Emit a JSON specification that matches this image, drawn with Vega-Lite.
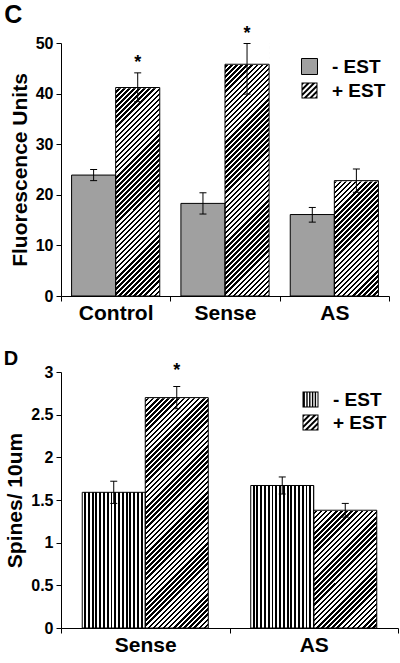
{
"$schema": "https://vega.github.io/schema/vega-lite/v6.json",
"background": "white",
"padding": {"left": 3, "top": 2, "right": 0, "bottom": 0},
"spacing": 25,
"config": {
  "view": {"stroke": null},
  "font": "Liberation Sans",
  "axis": {"domainColor": "#000", "tickColor": "#000", "labelColor": "#000", "titleColor": "#000", "labelFont": "Liberation Sans", "titleFont": "Liberation Sans", "labelFontWeight": "bold", "titleFontWeight": "bold", "grid": false, "domainWidth": 1, "tickWidth": 1},
  "title": {"font": "Liberation Sans", "fontWeight": "bold", "color": "#000", "anchor": "start", "frame": "bounds"}
},
"datasets": {
  "c": [
    {"g": "Control", "t": "- EST", "v": 23.9, "lo": 22.8, "hi": 25.0},
    {"g": "Control", "t": "+ EST", "v": 41.2, "lo": 38.4, "hi": 44.1, "star": true},
    {"g": "Sense", "t": "- EST", "v": 18.3, "lo": 16.2, "hi": 20.4},
    {"g": "Sense", "t": "+ EST", "v": 45.8, "lo": 39.9, "hi": 49.9, "star": true},
    {"g": "AS", "t": "- EST", "v": 16.1, "lo": 14.6, "hi": 17.5},
    {"g": "AS", "t": "+ EST", "v": 22.8, "lo": 20.5, "hi": 25.1}
  ],
  "d": [
    {"g": "Sense", "t": "- EST", "v": 1.59, "lo": 1.46, "hi": 1.72},
    {"g": "Sense", "t": "+ EST", "v": 2.70, "lo": 2.57, "hi": 2.83, "star": true},
    {"g": "AS", "t": "- EST", "v": 1.67, "lo": 1.57, "hi": 1.77},
    {"g": "AS", "t": "+ EST", "v": 1.38, "lo": 1.30, "hi": 1.46}
  ]
},
"resolve": {"scale": {"x": "independent", "y": "independent", "xOffset": "independent", "color": "independent", "shape": "independent", "stroke": "independent"}, "legend": {"color": "independent", "shape": "independent", "stroke": "independent"}},
"vconcat": [
{
  "title": {"text": "C", "fontSize": 25, "offset": -3, "dx": -5},
  "width": 328,
  "height": 253,
  "data": {"name": "c"},
  "encoding": {
    "x": {"field": "g", "type": "nominal", "sort": ["Control", "Sense", "AS"], "scale": {"paddingInner": 0, "paddingOuter": 0}, "axis": {"title": null, "labelFontSize": 21, "labelPadding": 1, "tickSize": 5, "tickBand": "extent", "labelAngle": 0}},
    "xOffset": {"field": "t", "type": "nominal", "sort": ["- EST", "+ EST"], "scale": {"paddingOuter": 0.24, "paddingInner": 0}}
  },
  "layer": [
    {
      "transform": [{"filter": "datum.t == '+ EST'"}],
      "mark": {"type": "bar", "strokeWidth": 0, "fill": {"gradient": "linear", "x1": 0, "y1": 0, "x2": 0.1986, "y2": 1.1396, "stops": [
{"offset":0,"color":"#fff"},
{"offset":0.0085,"color":"#fff"},{"offset":0.0085,"color":"#000"},
{"offset":0.017,"color":"#000"},{"offset":0.017,"color":"#fff"},
{"offset":0.0255,"color":"#fff"},{"offset":0.0255,"color":"#000"},
{"offset":0.034,"color":"#000"},{"offset":0.034,"color":"#fff"},
{"offset":0.0425,"color":"#fff"},{"offset":0.0425,"color":"#000"},
{"offset":0.051,"color":"#000"},{"offset":0.051,"color":"#fff"},
{"offset":0.0595,"color":"#fff"},{"offset":0.0595,"color":"#000"},
{"offset":0.068,"color":"#000"},{"offset":0.068,"color":"#fff"},
{"offset":0.0765,"color":"#fff"},{"offset":0.0765,"color":"#000"},
{"offset":0.085,"color":"#000"},{"offset":0.085,"color":"#fff"},
{"offset":0.0935,"color":"#fff"},{"offset":0.0935,"color":"#000"},
{"offset":0.102,"color":"#000"},{"offset":0.102,"color":"#fff"},
{"offset":0.1105,"color":"#fff"},{"offset":0.1105,"color":"#000"},
{"offset":0.119,"color":"#000"},{"offset":0.119,"color":"#fff"},
{"offset":0.1275,"color":"#fff"},{"offset":0.1275,"color":"#000"},
{"offset":0.136,"color":"#000"},{"offset":0.136,"color":"#fff"},
{"offset":0.1445,"color":"#fff"},{"offset":0.1445,"color":"#000"},
{"offset":0.153,"color":"#000"},{"offset":0.153,"color":"#fff"},
{"offset":0.1615,"color":"#fff"},{"offset":0.1615,"color":"#000"},
{"offset":0.17,"color":"#000"},{"offset":0.17,"color":"#fff"},
{"offset":0.1785,"color":"#fff"},{"offset":0.1785,"color":"#000"},
{"offset":0.187,"color":"#000"},{"offset":0.187,"color":"#fff"},
{"offset":0.1955,"color":"#fff"},{"offset":0.1955,"color":"#000"},
{"offset":0.204,"color":"#000"},{"offset":0.204,"color":"#fff"},
{"offset":0.2125,"color":"#fff"},{"offset":0.2125,"color":"#000"},
{"offset":0.221,"color":"#000"},{"offset":0.221,"color":"#fff"},
{"offset":0.2295,"color":"#fff"},{"offset":0.2295,"color":"#000"},
{"offset":0.238,"color":"#000"},{"offset":0.238,"color":"#fff"},
{"offset":0.2465,"color":"#fff"},{"offset":0.2465,"color":"#000"},
{"offset":0.255,"color":"#000"},{"offset":0.255,"color":"#fff"},
{"offset":0.2635,"color":"#fff"},{"offset":0.2635,"color":"#000"},
{"offset":0.272,"color":"#000"},{"offset":0.272,"color":"#fff"},
{"offset":0.2805,"color":"#fff"},{"offset":0.2805,"color":"#000"},
{"offset":0.289,"color":"#000"},{"offset":0.289,"color":"#fff"},
{"offset":0.2975,"color":"#fff"},{"offset":0.2975,"color":"#000"},
{"offset":0.306,"color":"#000"},{"offset":0.306,"color":"#fff"},
{"offset":0.3145,"color":"#fff"},{"offset":0.3145,"color":"#000"},
{"offset":0.323,"color":"#000"},{"offset":0.323,"color":"#fff"},
{"offset":0.3315,"color":"#fff"},{"offset":0.3315,"color":"#000"},
{"offset":0.34,"color":"#000"},{"offset":0.34,"color":"#fff"},
{"offset":0.3485,"color":"#fff"},{"offset":0.3485,"color":"#000"},
{"offset":0.357,"color":"#000"},{"offset":0.357,"color":"#fff"},
{"offset":0.3655,"color":"#fff"},{"offset":0.3655,"color":"#000"},
{"offset":0.374,"color":"#000"},{"offset":0.374,"color":"#fff"},
{"offset":0.3825,"color":"#fff"},{"offset":0.3825,"color":"#000"},
{"offset":0.391,"color":"#000"},{"offset":0.391,"color":"#fff"},
{"offset":0.3995,"color":"#fff"},{"offset":0.3995,"color":"#000"},
{"offset":0.408,"color":"#000"},{"offset":0.408,"color":"#fff"},
{"offset":0.4165,"color":"#fff"},{"offset":0.4165,"color":"#000"},
{"offset":0.425,"color":"#000"},{"offset":0.425,"color":"#fff"},
{"offset":0.4335,"color":"#fff"},{"offset":0.4335,"color":"#000"},
{"offset":0.442,"color":"#000"},{"offset":0.442,"color":"#fff"},
{"offset":0.4505,"color":"#fff"},{"offset":0.4505,"color":"#000"},
{"offset":0.459,"color":"#000"},{"offset":0.459,"color":"#fff"},
{"offset":0.4675,"color":"#fff"},{"offset":0.4675,"color":"#000"},
{"offset":0.476,"color":"#000"},{"offset":0.476,"color":"#fff"},
{"offset":0.4845,"color":"#fff"},{"offset":0.4845,"color":"#000"},
{"offset":0.493,"color":"#000"},{"offset":0.493,"color":"#fff"},
{"offset":0.5015,"color":"#fff"},{"offset":0.5015,"color":"#000"},
{"offset":0.51,"color":"#000"},{"offset":0.51,"color":"#fff"},
{"offset":0.5185,"color":"#fff"},{"offset":0.5185,"color":"#000"},
{"offset":0.527,"color":"#000"},{"offset":0.527,"color":"#fff"},
{"offset":0.5355,"color":"#fff"},{"offset":0.5355,"color":"#000"},
{"offset":0.544,"color":"#000"},{"offset":0.544,"color":"#fff"},
{"offset":0.5525,"color":"#fff"},{"offset":0.5525,"color":"#000"},
{"offset":0.561,"color":"#000"},{"offset":0.561,"color":"#fff"},
{"offset":0.5695,"color":"#fff"},{"offset":0.5695,"color":"#000"},
{"offset":0.578,"color":"#000"},{"offset":0.578,"color":"#fff"},
{"offset":0.5865,"color":"#fff"},{"offset":0.5865,"color":"#000"},
{"offset":0.595,"color":"#000"},{"offset":0.595,"color":"#fff"},
{"offset":0.6035,"color":"#fff"},{"offset":0.6035,"color":"#000"},
{"offset":0.612,"color":"#000"},{"offset":0.612,"color":"#fff"},
{"offset":0.6205,"color":"#fff"},{"offset":0.6205,"color":"#000"},
{"offset":0.629,"color":"#000"},{"offset":0.629,"color":"#fff"},
{"offset":0.6375,"color":"#fff"},{"offset":0.6375,"color":"#000"},
{"offset":0.646,"color":"#000"},{"offset":0.646,"color":"#fff"},
{"offset":0.6545,"color":"#fff"},{"offset":0.6545,"color":"#000"},
{"offset":0.663,"color":"#000"},{"offset":0.663,"color":"#fff"},
{"offset":0.6715,"color":"#fff"},{"offset":0.6715,"color":"#000"},
{"offset":0.68,"color":"#000"},{"offset":0.68,"color":"#fff"},
{"offset":0.6885,"color":"#fff"},{"offset":0.6885,"color":"#000"},
{"offset":0.697,"color":"#000"},{"offset":0.697,"color":"#fff"},
{"offset":0.7055,"color":"#fff"},{"offset":0.7055,"color":"#000"},
{"offset":0.714,"color":"#000"},{"offset":0.714,"color":"#fff"},
{"offset":0.7225,"color":"#fff"},{"offset":0.7225,"color":"#000"},
{"offset":0.731,"color":"#000"},{"offset":0.731,"color":"#fff"},
{"offset":0.7395,"color":"#fff"},{"offset":0.7395,"color":"#000"},
{"offset":0.748,"color":"#000"},{"offset":0.748,"color":"#fff"},
{"offset":0.7565,"color":"#fff"},{"offset":0.7565,"color":"#000"},
{"offset":0.765,"color":"#000"},{"offset":0.765,"color":"#fff"},
{"offset":0.7735,"color":"#fff"},{"offset":0.7735,"color":"#000"},
{"offset":0.782,"color":"#000"},{"offset":0.782,"color":"#fff"},
{"offset":0.7905,"color":"#fff"},{"offset":0.7905,"color":"#000"},
{"offset":0.799,"color":"#000"},{"offset":0.799,"color":"#fff"},
{"offset":0.8075,"color":"#fff"},{"offset":0.8075,"color":"#000"},
{"offset":0.816,"color":"#000"},{"offset":0.816,"color":"#fff"},
{"offset":0.8245,"color":"#fff"},{"offset":0.8245,"color":"#000"},
{"offset":0.833,"color":"#000"},{"offset":0.833,"color":"#fff"},
{"offset":0.8415,"color":"#fff"},{"offset":0.8415,"color":"#000"},
{"offset":0.85,"color":"#000"},{"offset":0.85,"color":"#fff"},
{"offset":0.8585,"color":"#fff"},{"offset":0.8585,"color":"#000"},
{"offset":0.867,"color":"#000"},{"offset":0.867,"color":"#fff"},
{"offset":0.8755,"color":"#fff"},{"offset":0.8755,"color":"#000"},
{"offset":0.884,"color":"#000"},{"offset":0.884,"color":"#fff"},
{"offset":0.8925,"color":"#fff"},{"offset":0.8925,"color":"#000"},
{"offset":0.901,"color":"#000"},{"offset":0.901,"color":"#fff"},
{"offset":0.9095,"color":"#fff"},{"offset":0.9095,"color":"#000"},
{"offset":0.918,"color":"#000"},{"offset":0.918,"color":"#fff"},
{"offset":0.9265,"color":"#fff"},{"offset":0.9265,"color":"#000"},
{"offset":0.935,"color":"#000"},{"offset":0.935,"color":"#fff"},
{"offset":0.9435,"color":"#fff"},{"offset":0.9435,"color":"#000"},
{"offset":0.952,"color":"#000"},{"offset":0.952,"color":"#fff"},
{"offset":0.9605,"color":"#fff"},{"offset":0.9605,"color":"#000"},
{"offset":0.969,"color":"#000"},{"offset":0.969,"color":"#fff"},
{"offset":0.9775,"color":"#fff"},{"offset":0.9775,"color":"#000"},
{"offset":0.986,"color":"#000"},{"offset":0.986,"color":"#fff"},
{"offset":0.9945,"color":"#fff"},{"offset":0.9945,"color":"#000"},
{"offset":1,"color":"#000"}]}},
      "encoding": {"y": {"datum": 50, "type": "quantitative"}, "y2": {"datum": 0}}
    },
    {
      "transform": [{"filter": "datum.t == '+ EST'"}],
      "mark": {"type": "bar", "fill": "#fff", "stroke": "#fff", "strokeWidth": 1.5},
      "encoding": {"y": {"field": "v", "type": "quantitative"}, "y2": {"datum": 50}}
    },
    {
      "transform": [{"filter": "datum.t == '- EST'"}],
      "mark": {"type": "bar", "fill": "#a0a0a0", "stroke": "#000", "strokeWidth": 1},
      "encoding": {"y": {"field": "v", "type": "quantitative", "scale": {"domain": [0, 50], "nice": false}, "axis": {"title": "Fluorescence Units", "titleFontSize": 21, "titlePadding": 5, "values": [0, 10, 20, 30, 40, 50], "labelFontSize": 16, "labelPadding": 3, "tickSize": 5}}}
    },
    {
      "transform": [{"filter": "datum.t == '+ EST'"}],
      "mark": {"type": "bar", "fill": "transparent", "stroke": "#000", "strokeWidth": 1},
      "encoding": {"y": {"field": "v", "type": "quantitative"}}
    },
    {
      "mark": {"type": "rule", "color": "#000", "strokeWidth": 1},
      "encoding": {"y": {"field": "lo", "type": "quantitative"}, "y2": {"field": "hi"}}
    },
    {
      "mark": {"type": "tick", "orient": "horizontal", "size": 7, "thickness": 1, "color": "#000", "opacity": 1},
      "encoding": {"y": {"field": "hi", "type": "quantitative"}}
    },
    {
      "mark": {"type": "tick", "orient": "horizontal", "size": 7, "thickness": 1, "color": "#000", "opacity": 1},
      "encoding": {"y": {"field": "lo", "type": "quantitative"}}
    },
    {
      "transform": [{"filter": "datum.star === true"}],
      "mark": {"type": "text", "text": "*", "fontSize": 18, "fontWeight": "bold", "font": "Liberation Sans", "baseline": "alphabetic", "dy": -5, "color": "#000"},
      "encoding": {"y": {"field": "hi", "type": "quantitative"}}
    },
    {
      "transform": [{"filter": "false"}],
      "mark": {"type": "point", "filled": true, "opacity": 1, "size": 256, "strokeWidth": 1},
      "encoding": {
        "y": {"field": "v", "type": "quantitative"},
        "color": {"field": "t", "type": "nominal", "scale": {"domain": ["- EST", "+ EST"], "range": ["#a0a0a0", "#000"]},
          "legend": {"title": null, "orient": "none", "legendX": 239, "legendY": 14, "symbolSize": 256, "symbolStrokeWidth": 1, "symbolOpacity": 1, "labelFontSize": 19, "labelFontWeight": "bold", "labelFont": "Liberation Sans", "labelColor": "#000", "labelOffset": 13, "rowPadding": 3, "padding": 0}},
        "shape": {"field": "t", "type": "nominal", "scale": {"domain": ["- EST", "+ EST"], "range": ["square", "M-1,-1H1V1H-1Z M-0.875,-0.35L-0.35,-0.875L-0.7,-0.875L-0.875,-0.7Z M-0.875,0.35L0.35,-0.875L0,-0.875L-0.875,0Z M-0.7,0.875L0.875,-0.7L0.875,-0.875L0.7,-0.875L-0.875,0.7L-0.875,0.875Z M0,0.875L0.875,0L0.875,-0.35L-0.35,0.875Z M0.7,0.875L0.875,0.7L0.875,0.35L0.35,0.875Z"]},
          "legend": {"title": null, "orient": "none", "legendX": 239, "legendY": 14, "symbolSize": 256, "symbolStrokeWidth": 1, "symbolOpacity": 1, "labelFontSize": 19, "labelFontWeight": "bold", "labelFont": "Liberation Sans", "labelColor": "#000", "labelOffset": 13, "rowPadding": 3, "padding": 0}},
        "stroke": {"field": "t", "type": "nominal", "scale": {"domain": ["- EST", "+ EST"], "range": ["#000", "transparent"]},
          "legend": {"title": null, "orient": "none", "legendX": 239, "legendY": 14, "symbolSize": 256, "symbolStrokeWidth": 1, "symbolOpacity": 1, "labelFontSize": 19, "labelFontWeight": "bold", "labelFont": "Liberation Sans", "labelColor": "#000", "labelOffset": 13, "rowPadding": 3, "padding": 0}}
      }
    }
  ]
},
{
  "title": {"text": "D", "fontSize": 20, "offset": -7, "dx": -1},
  "width": 337,
  "height": 256,
  "data": {"name": "d"},
  "encoding": {
    "x": {"field": "g", "type": "nominal", "sort": ["Sense", "AS"], "scale": {"paddingInner": 0, "paddingOuter": 0}, "axis": {"title": null, "labelFontSize": 21, "labelPadding": 1, "tickSize": 5, "tickBand": "extent", "labelAngle": 0}},
    "xOffset": {"field": "t", "type": "nominal", "sort": ["- EST", "+ EST"], "scale": {"paddingOuter": 0.337, "paddingInner": 0}}
  },
  "layer": [
    {
      "transform": [{"filter": "datum.t == '+ EST'"}],
      "mark": {"type": "bar", "strokeWidth": 0, "fill": {"gradient": "linear", "x1": 0, "y1": 0, "x2": 0.2892, "y2": 1.175, "stops": [
{"offset":0,"color":"#fff"},
{"offset":0.008,"color":"#fff"},{"offset":0.008,"color":"#000"},
{"offset":0.016,"color":"#000"},{"offset":0.016,"color":"#fff"},
{"offset":0.024,"color":"#fff"},{"offset":0.024,"color":"#000"},
{"offset":0.032,"color":"#000"},{"offset":0.032,"color":"#fff"},
{"offset":0.04,"color":"#fff"},{"offset":0.04,"color":"#000"},
{"offset":0.048,"color":"#000"},{"offset":0.048,"color":"#fff"},
{"offset":0.056,"color":"#fff"},{"offset":0.056,"color":"#000"},
{"offset":0.064,"color":"#000"},{"offset":0.064,"color":"#fff"},
{"offset":0.072,"color":"#fff"},{"offset":0.072,"color":"#000"},
{"offset":0.08,"color":"#000"},{"offset":0.08,"color":"#fff"},
{"offset":0.088,"color":"#fff"},{"offset":0.088,"color":"#000"},
{"offset":0.096,"color":"#000"},{"offset":0.096,"color":"#fff"},
{"offset":0.104,"color":"#fff"},{"offset":0.104,"color":"#000"},
{"offset":0.112,"color":"#000"},{"offset":0.112,"color":"#fff"},
{"offset":0.12,"color":"#fff"},{"offset":0.12,"color":"#000"},
{"offset":0.128,"color":"#000"},{"offset":0.128,"color":"#fff"},
{"offset":0.136,"color":"#fff"},{"offset":0.136,"color":"#000"},
{"offset":0.144,"color":"#000"},{"offset":0.144,"color":"#fff"},
{"offset":0.152,"color":"#fff"},{"offset":0.152,"color":"#000"},
{"offset":0.16,"color":"#000"},{"offset":0.16,"color":"#fff"},
{"offset":0.168,"color":"#fff"},{"offset":0.168,"color":"#000"},
{"offset":0.176,"color":"#000"},{"offset":0.176,"color":"#fff"},
{"offset":0.184,"color":"#fff"},{"offset":0.184,"color":"#000"},
{"offset":0.192,"color":"#000"},{"offset":0.192,"color":"#fff"},
{"offset":0.2,"color":"#fff"},{"offset":0.2,"color":"#000"},
{"offset":0.208,"color":"#000"},{"offset":0.208,"color":"#fff"},
{"offset":0.216,"color":"#fff"},{"offset":0.216,"color":"#000"},
{"offset":0.224,"color":"#000"},{"offset":0.224,"color":"#fff"},
{"offset":0.232,"color":"#fff"},{"offset":0.232,"color":"#000"},
{"offset":0.24,"color":"#000"},{"offset":0.24,"color":"#fff"},
{"offset":0.248,"color":"#fff"},{"offset":0.248,"color":"#000"},
{"offset":0.256,"color":"#000"},{"offset":0.256,"color":"#fff"},
{"offset":0.264,"color":"#fff"},{"offset":0.264,"color":"#000"},
{"offset":0.272,"color":"#000"},{"offset":0.272,"color":"#fff"},
{"offset":0.28,"color":"#fff"},{"offset":0.28,"color":"#000"},
{"offset":0.288,"color":"#000"},{"offset":0.288,"color":"#fff"},
{"offset":0.296,"color":"#fff"},{"offset":0.296,"color":"#000"},
{"offset":0.304,"color":"#000"},{"offset":0.304,"color":"#fff"},
{"offset":0.312,"color":"#fff"},{"offset":0.312,"color":"#000"},
{"offset":0.32,"color":"#000"},{"offset":0.32,"color":"#fff"},
{"offset":0.328,"color":"#fff"},{"offset":0.328,"color":"#000"},
{"offset":0.336,"color":"#000"},{"offset":0.336,"color":"#fff"},
{"offset":0.344,"color":"#fff"},{"offset":0.344,"color":"#000"},
{"offset":0.352,"color":"#000"},{"offset":0.352,"color":"#fff"},
{"offset":0.36,"color":"#fff"},{"offset":0.36,"color":"#000"},
{"offset":0.368,"color":"#000"},{"offset":0.368,"color":"#fff"},
{"offset":0.376,"color":"#fff"},{"offset":0.376,"color":"#000"},
{"offset":0.384,"color":"#000"},{"offset":0.384,"color":"#fff"},
{"offset":0.392,"color":"#fff"},{"offset":0.392,"color":"#000"},
{"offset":0.4,"color":"#000"},{"offset":0.4,"color":"#fff"},
{"offset":0.408,"color":"#fff"},{"offset":0.408,"color":"#000"},
{"offset":0.416,"color":"#000"},{"offset":0.416,"color":"#fff"},
{"offset":0.424,"color":"#fff"},{"offset":0.424,"color":"#000"},
{"offset":0.432,"color":"#000"},{"offset":0.432,"color":"#fff"},
{"offset":0.44,"color":"#fff"},{"offset":0.44,"color":"#000"},
{"offset":0.448,"color":"#000"},{"offset":0.448,"color":"#fff"},
{"offset":0.456,"color":"#fff"},{"offset":0.456,"color":"#000"},
{"offset":0.464,"color":"#000"},{"offset":0.464,"color":"#fff"},
{"offset":0.472,"color":"#fff"},{"offset":0.472,"color":"#000"},
{"offset":0.48,"color":"#000"},{"offset":0.48,"color":"#fff"},
{"offset":0.488,"color":"#fff"},{"offset":0.488,"color":"#000"},
{"offset":0.496,"color":"#000"},{"offset":0.496,"color":"#fff"},
{"offset":0.504,"color":"#fff"},{"offset":0.504,"color":"#000"},
{"offset":0.512,"color":"#000"},{"offset":0.512,"color":"#fff"},
{"offset":0.52,"color":"#fff"},{"offset":0.52,"color":"#000"},
{"offset":0.528,"color":"#000"},{"offset":0.528,"color":"#fff"},
{"offset":0.536,"color":"#fff"},{"offset":0.536,"color":"#000"},
{"offset":0.544,"color":"#000"},{"offset":0.544,"color":"#fff"},
{"offset":0.552,"color":"#fff"},{"offset":0.552,"color":"#000"},
{"offset":0.56,"color":"#000"},{"offset":0.56,"color":"#fff"},
{"offset":0.568,"color":"#fff"},{"offset":0.568,"color":"#000"},
{"offset":0.576,"color":"#000"},{"offset":0.576,"color":"#fff"},
{"offset":0.584,"color":"#fff"},{"offset":0.584,"color":"#000"},
{"offset":0.592,"color":"#000"},{"offset":0.592,"color":"#fff"},
{"offset":0.6,"color":"#fff"},{"offset":0.6,"color":"#000"},
{"offset":0.608,"color":"#000"},{"offset":0.608,"color":"#fff"},
{"offset":0.616,"color":"#fff"},{"offset":0.616,"color":"#000"},
{"offset":0.624,"color":"#000"},{"offset":0.624,"color":"#fff"},
{"offset":0.632,"color":"#fff"},{"offset":0.632,"color":"#000"},
{"offset":0.64,"color":"#000"},{"offset":0.64,"color":"#fff"},
{"offset":0.648,"color":"#fff"},{"offset":0.648,"color":"#000"},
{"offset":0.656,"color":"#000"},{"offset":0.656,"color":"#fff"},
{"offset":0.664,"color":"#fff"},{"offset":0.664,"color":"#000"},
{"offset":0.672,"color":"#000"},{"offset":0.672,"color":"#fff"},
{"offset":0.68,"color":"#fff"},{"offset":0.68,"color":"#000"},
{"offset":0.688,"color":"#000"},{"offset":0.688,"color":"#fff"},
{"offset":0.696,"color":"#fff"},{"offset":0.696,"color":"#000"},
{"offset":0.704,"color":"#000"},{"offset":0.704,"color":"#fff"},
{"offset":0.712,"color":"#fff"},{"offset":0.712,"color":"#000"},
{"offset":0.72,"color":"#000"},{"offset":0.72,"color":"#fff"},
{"offset":0.728,"color":"#fff"},{"offset":0.728,"color":"#000"},
{"offset":0.736,"color":"#000"},{"offset":0.736,"color":"#fff"},
{"offset":0.744,"color":"#fff"},{"offset":0.744,"color":"#000"},
{"offset":0.752,"color":"#000"},{"offset":0.752,"color":"#fff"},
{"offset":0.76,"color":"#fff"},{"offset":0.76,"color":"#000"},
{"offset":0.768,"color":"#000"},{"offset":0.768,"color":"#fff"},
{"offset":0.776,"color":"#fff"},{"offset":0.776,"color":"#000"},
{"offset":0.784,"color":"#000"},{"offset":0.784,"color":"#fff"},
{"offset":0.792,"color":"#fff"},{"offset":0.792,"color":"#000"},
{"offset":0.8,"color":"#000"},{"offset":0.8,"color":"#fff"},
{"offset":0.808,"color":"#fff"},{"offset":0.808,"color":"#000"},
{"offset":0.816,"color":"#000"},{"offset":0.816,"color":"#fff"},
{"offset":0.824,"color":"#fff"},{"offset":0.824,"color":"#000"},
{"offset":0.832,"color":"#000"},{"offset":0.832,"color":"#fff"},
{"offset":0.84,"color":"#fff"},{"offset":0.84,"color":"#000"},
{"offset":0.848,"color":"#000"},{"offset":0.848,"color":"#fff"},
{"offset":0.856,"color":"#fff"},{"offset":0.856,"color":"#000"},
{"offset":0.864,"color":"#000"},{"offset":0.864,"color":"#fff"},
{"offset":0.872,"color":"#fff"},{"offset":0.872,"color":"#000"},
{"offset":0.88,"color":"#000"},{"offset":0.88,"color":"#fff"},
{"offset":0.888,"color":"#fff"},{"offset":0.888,"color":"#000"},
{"offset":0.896,"color":"#000"},{"offset":0.896,"color":"#fff"},
{"offset":0.904,"color":"#fff"},{"offset":0.904,"color":"#000"},
{"offset":0.912,"color":"#000"},{"offset":0.912,"color":"#fff"},
{"offset":0.92,"color":"#fff"},{"offset":0.92,"color":"#000"},
{"offset":0.928,"color":"#000"},{"offset":0.928,"color":"#fff"},
{"offset":0.936,"color":"#fff"},{"offset":0.936,"color":"#000"},
{"offset":0.944,"color":"#000"},{"offset":0.944,"color":"#fff"},
{"offset":0.952,"color":"#fff"},{"offset":0.952,"color":"#000"},
{"offset":0.96,"color":"#000"},{"offset":0.96,"color":"#fff"},
{"offset":0.968,"color":"#fff"},{"offset":0.968,"color":"#000"},
{"offset":0.976,"color":"#000"},{"offset":0.976,"color":"#fff"},
{"offset":0.984,"color":"#fff"},{"offset":0.984,"color":"#000"},
{"offset":0.992,"color":"#000"},{"offset":0.992,"color":"#fff"},
{"offset":1,"color":"#fff"}]}},
      "encoding": {"y": {"datum": 3, "type": "quantitative"}, "y2": {"datum": 0}}
    },
    {
      "transform": [{"filter": "datum.t == '+ EST'"}],
      "mark": {"type": "bar", "fill": "#fff", "stroke": "#fff", "strokeWidth": 1.5},
      "encoding": {"y": {"field": "v", "type": "quantitative"}, "y2": {"datum": 3}}
    },
    {
      "transform": [{"filter": "datum.t == '- EST'"}],
      "mark": {"type": "bar", "stroke": "#000", "strokeWidth": 1, "fill": {"gradient": "linear", "x1": 0, "y1": 0, "x2": 1, "y2": 0, "stops": [{"offset":0,"color":"#fff"},{"offset":0.03,"color":"#fff"},{"offset":0.03,"color":"#000"},{"offset":0.06,"color":"#000"},{"offset":0.06,"color":"#fff"},{"offset":0.09,"color":"#fff"},{"offset":0.09,"color":"#000"},{"offset":0.12,"color":"#000"},{"offset":0.12,"color":"#fff"},{"offset":0.15,"color":"#fff"},{"offset":0.15,"color":"#000"},{"offset":0.18,"color":"#000"},{"offset":0.18,"color":"#fff"},{"offset":0.21,"color":"#fff"},{"offset":0.21,"color":"#000"},{"offset":0.24,"color":"#000"},{"offset":0.24,"color":"#fff"},{"offset":0.27,"color":"#fff"},{"offset":0.27,"color":"#000"},{"offset":0.3,"color":"#000"},{"offset":0.3,"color":"#fff"},{"offset":0.33,"color":"#fff"},{"offset":0.33,"color":"#000"},{"offset":0.36,"color":"#000"},{"offset":0.36,"color":"#fff"},{"offset":0.39,"color":"#fff"},{"offset":0.39,"color":"#000"},{"offset":0.42,"color":"#000"},{"offset":0.42,"color":"#fff"},{"offset":0.45,"color":"#fff"},{"offset":0.45,"color":"#000"},{"offset":0.48,"color":"#000"},{"offset":0.48,"color":"#fff"},{"offset":0.51,"color":"#fff"},{"offset":0.51,"color":"#000"},{"offset":0.54,"color":"#000"},{"offset":0.54,"color":"#fff"},{"offset":0.57,"color":"#fff"},{"offset":0.57,"color":"#000"},{"offset":0.6,"color":"#000"},{"offset":0.6,"color":"#fff"},{"offset":0.63,"color":"#fff"},{"offset":0.63,"color":"#000"},{"offset":0.66,"color":"#000"},{"offset":0.66,"color":"#fff"},{"offset":0.69,"color":"#fff"},{"offset":0.69,"color":"#000"},{"offset":0.72,"color":"#000"},{"offset":0.72,"color":"#fff"},{"offset":0.75,"color":"#fff"},{"offset":0.75,"color":"#000"},{"offset":0.78,"color":"#000"},{"offset":0.78,"color":"#fff"},{"offset":0.81,"color":"#fff"},{"offset":0.81,"color":"#000"},{"offset":0.84,"color":"#000"},{"offset":0.84,"color":"#fff"},{"offset":0.87,"color":"#fff"},{"offset":0.87,"color":"#000"},{"offset":0.9,"color":"#000"},{"offset":0.9,"color":"#fff"},{"offset":0.93,"color":"#fff"},{"offset":0.93,"color":"#000"},{"offset":0.96,"color":"#000"},{"offset":0.96,"color":"#fff"},{"offset":0.99,"color":"#fff"},{"offset":0.99,"color":"#000"},{"offset":1,"color":"#000"}]}},
      "encoding": {"y": {"field": "v", "type": "quantitative", "scale": {"domain": [0, 3], "nice": false}, "axis": {"title": "Spines/ 10um", "titleFontSize": 21, "titlePadding": 5, "values": [0, 0.5, 1, 1.5, 2, 2.5, 3], "format": "~g", "labelFontSize": 16, "labelPadding": 3, "tickSize": 5}}}
    },
    {
      "transform": [{"filter": "datum.t == '+ EST'"}],
      "mark": {"type": "bar", "fill": "transparent", "stroke": "#000", "strokeWidth": 1},
      "encoding": {"y": {"field": "v", "type": "quantitative"}}
    },
    {
      "mark": {"type": "rule", "color": "#000", "strokeWidth": 1},
      "encoding": {"y": {"field": "lo", "type": "quantitative"}, "y2": {"field": "hi"}}
    },
    {
      "mark": {"type": "tick", "orient": "horizontal", "size": 7, "thickness": 1, "color": "#000", "opacity": 1},
      "encoding": {"y": {"field": "hi", "type": "quantitative"}}
    },
    {
      "mark": {"type": "tick", "orient": "horizontal", "size": 7, "thickness": 1, "color": "#000", "opacity": 1},
      "encoding": {"y": {"field": "lo", "type": "quantitative"}}
    },
    {
      "transform": [{"filter": "datum.star === true"}],
      "mark": {"type": "text", "text": "*", "fontSize": 18, "fontWeight": "bold", "font": "Liberation Sans", "baseline": "alphabetic", "dy": -11, "color": "#000"},
      "encoding": {"y": {"field": "hi", "type": "quantitative"}}
    },
    {
      "transform": [{"filter": "false"}],
      "mark": {"type": "point", "filled": true, "opacity": 1, "size": 256, "strokeWidth": 0},
      "encoding": {
        "y": {"field": "v", "type": "quantitative"},
        "color": {"field": "t", "type": "nominal", "scale": {"domain": ["- EST", "+ EST"], "range": ["#000", "#000"]},
          "legend": {"title": null, "orient": "none", "legendX": 240, "legendY": 18, "symbolSize": 256, "symbolStrokeWidth": 0, "symbolOpacity": 1, "labelFontSize": 19, "labelFontWeight": "bold", "labelFont": "Liberation Sans", "labelColor": "#000", "labelOffset": 13, "rowPadding": 3, "padding": 0}},
        "shape": {"field": "t", "type": "nominal", "scale": {"domain": ["- EST", "+ EST"], "range": ["M-1,-1H1V1H-1Z M-0.7,-0.875V0.875H-0.525V-0.875Z M-0.35,-0.875V0.875H-0.175V-0.875Z M0,-0.875V0.875H0.175V-0.875Z M0.35,-0.875V0.875H0.525V-0.875Z M0.7,-0.875V0.875H0.875V-0.875Z", "M-1,-1H1V1H-1Z M-0.875,-0.35L-0.35,-0.875L-0.7,-0.875L-0.875,-0.7Z M-0.875,0.35L0.35,-0.875L0,-0.875L-0.875,0Z M-0.7,0.875L0.875,-0.7L0.875,-0.875L0.7,-0.875L-0.875,0.7L-0.875,0.875Z M0,0.875L0.875,0L0.875,-0.35L-0.35,0.875Z M0.7,0.875L0.875,0.7L0.875,0.35L0.35,0.875Z"]},
          "legend": {"title": null, "orient": "none", "legendX": 240, "legendY": 18, "symbolSize": 256, "symbolStrokeWidth": 0, "symbolOpacity": 1, "labelFontSize": 19, "labelFontWeight": "bold", "labelFont": "Liberation Sans", "labelColor": "#000", "labelOffset": 13, "rowPadding": 3, "padding": 0}}
      }
    }
  ]
}
]
}
